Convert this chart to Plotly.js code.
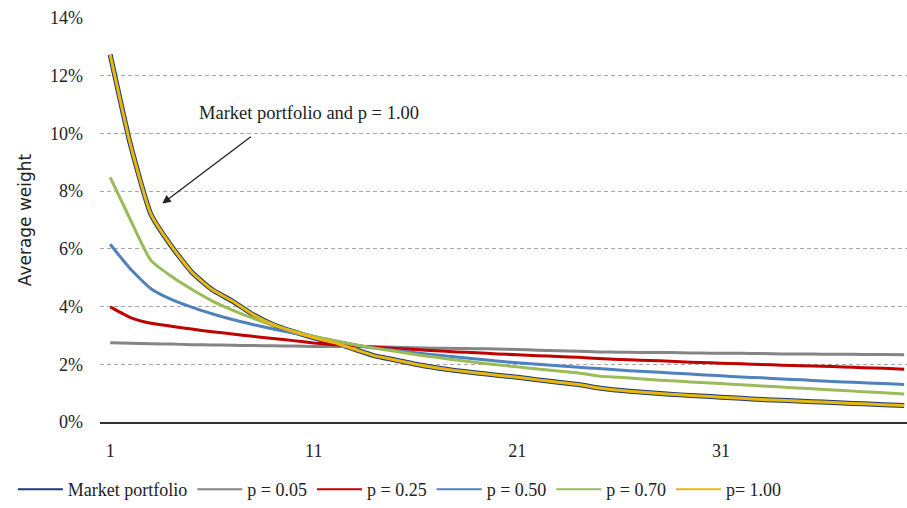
<!DOCTYPE html>
<html>
<head>
<meta charset="utf-8">
<script src="https://cdn.plot.ly/plotly-3.0.1.min.js"></script>
<style>
  html, body { margin: 0; padding: 0; background: #ffffff; }
  #chart { width: 907px; height: 508px; }
</style>
</head>
<body>
<div id="chart"></div>
<script>
// Asset rank (categories)
const ranks = [1,2,3,4,5,6,7,8,9,10,11,12,13,14,15,16,17,18,19,20,21,22,23,24,25,26,27,28,29,30,31,32,33,34,35,36,37,38,39,40];

// Average weight (%) per series
const marketPortfolio = [12.73,9.6,7.2,6.1,5.2,4.59,4.19,3.73,3.38,3.13,2.92,2.75,2.52,2.29,2.15,2.0,1.88,1.78,1.7,1.62,1.55,1.46,1.38,1.3,1.18,1.1,1.04,0.99,0.94,0.9,0.86,0.82,0.78,0.75,0.72,0.69,0.66,0.63,0.6,0.57];
const p005 = [2.75,2.73,2.71,2.7,2.68,2.67,2.66,2.65,2.64,2.63,2.62,2.62,2.61,2.6,2.59,2.57,2.56,2.55,2.54,2.53,2.51,2.49,2.47,2.45,2.43,2.42,2.41,2.41,2.4,2.39,2.38,2.38,2.37,2.36,2.36,2.35,2.35,2.34,2.34,2.33];
const p025 = [3.99,3.62,3.42,3.32,3.22,3.13,3.05,2.97,2.89,2.82,2.74,2.68,2.64,2.6,2.55,2.51,2.47,2.43,2.4,2.36,2.33,2.3,2.27,2.24,2.2,2.17,2.14,2.12,2.09,2.06,2.04,2.02,1.99,1.97,1.95,1.93,1.91,1.88,1.86,1.83];
const p050 = [6.16,5.3,4.62,4.25,3.98,3.75,3.55,3.38,3.22,3.08,2.95,2.82,2.68,2.56,2.48,2.4,2.32,2.25,2.18,2.11,2.05,2.0,1.95,1.9,1.85,1.8,1.76,1.72,1.68,1.64,1.6,1.56,1.53,1.49,1.46,1.42,1.39,1.36,1.33,1.3];
const p070 = [8.48,7.0,5.6,5.05,4.6,4.2,3.88,3.6,3.35,3.15,2.97,2.82,2.68,2.56,2.45,2.34,2.24,2.15,2.06,1.98,1.91,1.84,1.77,1.7,1.59,1.55,1.5,1.45,1.41,1.37,1.33,1.29,1.25,1.21,1.17,1.13,1.09,1.05,1.01,0.97];
const p100 = [12.73,9.6,7.2,6.1,5.2,4.59,4.19,3.73,3.38,3.13,2.92,2.75,2.52,2.29,2.15,2.0,1.88,1.78,1.7,1.62,1.55,1.46,1.38,1.3,1.18,1.1,1.04,0.99,0.94,0.9,0.86,0.82,0.78,0.75,0.72,0.69,0.66,0.63,0.6,0.57];

const seriesNames = ["Market portfolio", "p = 0.05", "p = 0.25", "p = 0.50", "p = 0.70", "p= 1.00"];
const xTickVals = [1, 11, 21, 31];
const yTickVals = [0, 2, 4, 6, 8, 10, 12, 14];

const seriesData = [marketPortfolio, p005, p025, p050, p070, p100];
const colors = ["#1F3A6E", "#858585", "#C00000", "#4F81BD", "#9BBB59", "#E8B80C"];
const widths = [5, 3, 3, 3, 3, 3];

// plotted curves (not shown in legend)
const traces = seriesData.map((vals, k) => ({
  type: "scatter",
  mode: "lines",
  x: ranks,
  y: vals,
  name: seriesNames[k],
  showlegend: false,
  line: { color: colors[k], width: widths[k], shape: "spline", smoothing: 0.5 },
  hoverinfo: "skip"
}));
// legend keys (thin lines, like the original legend)
seriesNames.forEach((nm, k) => {
  traces.push({
    type: "scatter", mode: "lines", x: [null], y: [null],
    name: nm, showlegend: true,
    line: { color: colors[k], width: 2 },
    hoverinfo: "skip"
  });
});

const serif = "'Liberation Serif', 'Times New Roman', serif";

const layout = {
  width: 907,
  height: 508,
  paper_bgcolor: "#ffffff",
  plot_bgcolor: "#ffffff",
  margin: { l: 100, r: 0, t: 18, b: 83, pad: 0 },
  showlegend: true,
  legend: {
    orientation: "h",
    x: -0.108,
    xanchor: "left",
    y: -0.168,
    yanchor: "middle",
    font: { family: serif, size: 18, color: "#222" },
    bgcolor: "rgba(0,0,0,0)",
    traceorder: "normal",
    itemwidth: 45
  },
  xaxis: {
    range: [0.5, 40.14],
    tickmode: "array",
    tickvals: xTickVals,
    ticktext: xTickVals.map(String),
    ticks: "",
    showgrid: false,
    zeroline: false,
    showline: true,
    linecolor: "#333333",
    linewidth: 1.5,
    tickfont: { family: serif, size: 18, color: "#222" },
    ticklabelstandoff: 12,
    automargin: false
  },
  yaxis: {
    range: [0, 14],
    tickmode: "array",
    tickvals: yTickVals,
    ticktext: yTickVals.map(v => v + "%"),
    ticks: "",
    showgrid: true,
    gridcolor: "#A8A8A8",
    gridwidth: 1,
    griddash: "4px,3px",
    zeroline: false,
    showline: false,
    tickfont: { family: serif, size: 18, color: "#222" },
    ticklabelstandoff: 16,
    automargin: false,
    title: {
      text: "Average weight",
      font: { family: "'DejaVu Sans', sans-serif", size: 17, color: "#222" },
      standoff: 14
    }
  },
  annotations: [
    {
      x: 3.56, y: 7.57, xref: "x", yref: "y",
      text: "",
      showarrow: true,
      arrowhead: 2, arrowsize: 1.3, arrowwidth: 1.3, arrowcolor: "#222",
      ax: 90, ay: -68, axref: "pixel", ayref: "pixel",
      standoff: 0, startstandoff: 0
    },
    {
      x: 308.7, y: 113.3,
      xref: "paper", yref: "paper",
      text: "Market portfolio and p = 1.00",
      showarrow: false,
      font: { family: serif, size: 18.5, color: "#222" }
    }
  ]
};

// convert annotation pixel position to paper coordinates
(function () {
  const a = layout.annotations[1];
  const plotW = 907 - layout.margin.l - layout.margin.r;
  const plotH = 508 - layout.margin.t - layout.margin.b;
  a.x = (a.x - layout.margin.l) / plotW;
  a.y = 1 - (a.y - layout.margin.t) / plotH;
  a.xanchor = "center"; a.yanchor = "middle";
})();

Plotly.newPlot("chart", traces, layout, { staticPlot: true, displayModeBar: false });
</script>
</body>
</html>
